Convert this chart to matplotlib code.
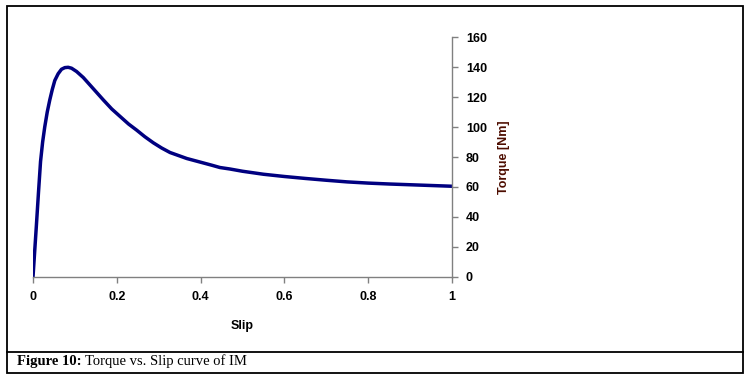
import numpy as np
import matplotlib
matplotlib.use("Agg")
import matplotlib.pyplot as plt
from matplotlib.patches import Rectangle
from matplotlib.lines import Line2D

# torque-slip curve
slip = [0.0, 0.004, 0.008, 0.013, 0.018, 0.023, 0.028, 0.034, 0.04, 0.046,
        0.052, 0.06, 0.068, 0.076, 0.084, 0.092, 0.104, 0.12, 0.136, 0.152,
        0.168, 0.188, 0.208, 0.228, 0.247, 0.267, 0.287, 0.307, 0.327, 0.347,
        0.367, 0.387, 0.407, 0.427, 0.446, 0.47, 0.5, 0.55, 0.6, 0.65,
        0.7, 0.75, 0.8, 0.85, 0.9, 0.95, 1.0]
torque = [0, 17, 34, 56, 77, 90, 100, 110, 118, 125,
          131, 135.5, 138.5, 139.6, 139.8, 139.2, 137, 133, 128, 123,
          118, 112, 107, 102, 98, 93.5, 89.5, 86, 83, 81,
          79, 77.5, 76, 74.5, 73, 72, 70.5, 68.5, 67, 65.7,
          64.5, 63.4, 62.6, 62, 61.5, 61, 60.5]

xticks = [0, 0.2, 0.4, 0.6, 0.8, 1]
xtick_labels = ["0", "0.2", "0.4", "0.6", "0.8", "1"]
yticks = [0, 20, 40, 60, 80, 100, 120, 140, 160]

fig = plt.figure(figsize=(7.5, 3.82), dpi=100)
ax = fig.add_axes([0.044, 0.2749, 0.5587, 0.6282])

ax.plot(slip, torque, color="#000080", lw=2.5, solid_capstyle="round",
        solid_joinstyle="round")
ax.set_xlim(0, 1)
ax.set_ylim(0, 160)

ax.yaxis.tick_right()
ax.yaxis.set_label_position("right")
for s in ["top", "left"]:
    ax.spines[s].set_visible(False)
for s in ["bottom", "right"]:
    ax.spines[s].set_color("#808080")
    ax.spines[s].set_linewidth(1.0)

font = "Liberation Sans"
ax.set_xticks(xticks)
ax.set_xticklabels(xtick_labels, family=font, fontweight="bold", fontsize=9)
ax.set_yticks(yticks)
ax.set_yticklabels([str(v) for v in yticks], family=font, fontweight="bold", fontsize=9)
ax.tick_params(axis="both", direction="out", length=4, color="#808080", width=1, pad=6)

ax.set_xlabel("Slip", family=font, fontweight="bold", fontsize=9, labelpad=12)
ax.set_ylabel("Torque [Nm]", family=font, fontweight="bold", fontsize=9,
              color="#4d0d00", labelpad=8)

# outer frame and caption box
fig.patches.append(Rectangle((7 / 750, 9 / 382), 736 / 750, 367 / 382,
                             transform=fig.transFigure, fill=False,
                             edgecolor="black", lw=1.3))
fig.lines.append(Line2D([7 / 750, 743 / 750], [30 / 382, 30 / 382],
                        transform=fig.transFigure, color="black", lw=1.3))

fig.text(17 / 750, 21 / 382, "Figure 10:", family="Liberation Serif",
         fontweight="bold", fontsize=10.5, va="center", ha="left")
fig.text(85 / 750, 21 / 382, "Torque vs. Slip curve of IM", family="Liberation Serif",
         fontsize=10.5, va="center", ha="left")

fig.savefig("out.png", dpi=100)
